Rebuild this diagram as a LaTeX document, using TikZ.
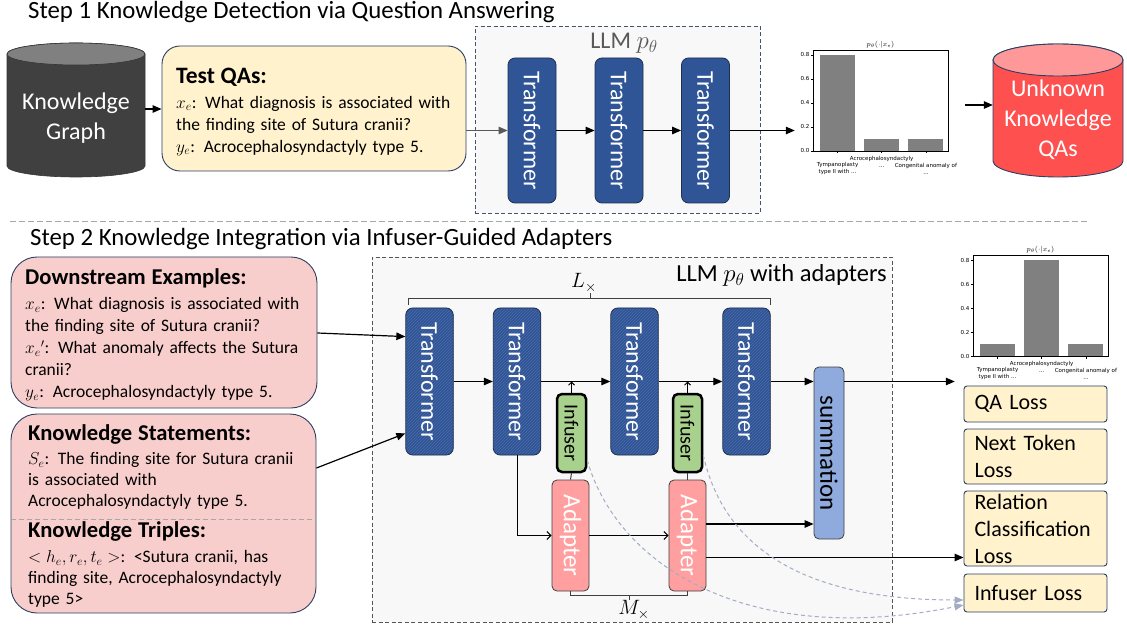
\documentclass[tikz,border=0pt]{standalone}
\usepackage{fontspec}
\setmainfont{Carlito}
\newfontfamily\plotfont{DejaVu Sans}
\usetikzlibrary{arrows.meta,patterns,calc}
\definecolor{tfblue}{HTML}{2F5597}
\definecolor{tfhatch}{HTML}{4A6BA6}
\definecolor{tfline}{HTML}{1F2F4F}
\definecolor{navy}{HTML}{2B3F63}
\definecolor{qafill}{HTML}{FFF2CC}
\definecolor{pinkfill}{HTML}{F8CECC}
\definecolor{llmfill}{HTML}{F8F8F8}
\definecolor{llmline}{HTML}{44546A}
\definecolor{llmtwo}{HTML}{555555}
\definecolor{adfill}{HTML}{FF9F9F}
\definecolor{inffill}{HTML}{A9D18E}
\definecolor{sumfill}{HTML}{8FAADC}
\definecolor{kgbody}{HTML}{404040}
\definecolor{kgtop}{HTML}{808080}
\definecolor{unkbody}{HTML}{FF5050}
\definecolor{unktop}{HTML}{FF9999}
\definecolor{bargray}{HTML}{808080}
\definecolor{dashblue}{HTML}{A3ACC4}
\definecolor{sepgray}{HTML}{A6A6A6}
\definecolor{darkgray}{HTML}{404040}
\definecolor{labgray}{HTML}{595959}
\newcommand{\fs}[2]{\fontsize{#1}{#2}\selectfont}
% #1 name, #2 left x, #3 bottom y, #4-#6 bar heights in tenths
\newcommand{\barchart}[6]{%
  \foreach \h [count=\i] in {#4,#5,#6}{
    \fill[bargray] ({#2+7+(\i-1)*44.2},#3) rectangle ++(35,{-\h*12});
    \draw[line width=0.5pt] ({#2+24.5+(\i-1)*44.2},#3) -- ++(0,2.5);
  }
  \draw[line width=0.6pt] (#2,#3) rectangle ++(135,-101);
  \foreach \v in {0,2,4,6,8}{
    \draw[line width=0.5pt] (#2,{#3-\v*12}) -- ++(-2.5,0);
    \node[tick] (#1y\v) at ({#2-3},{#3-\v*12}) {0.\v};
  }
  \node[inner sep=0pt, font=\fs{7}{7}] (#1t) at ({#2+67.5},{#3-106}) {$p_\theta(\cdot|x_e)$};
  \node[plotlbl] (#1a) at ({#2+24.5},{#3+17.5}) {Tympanoplasty\\type II with ...};
  \node[plotlbl] (#1b) at ({#2+68.7},{#3+10.5}) {Acrocephalosyndactyly\\...};
  \node[plotlbl] (#1c) at ({#2+112.9},{#3+17.5}) {Congenital anomaly of\\...};
}
\begin{document}
\begin{tikzpicture}[x=1pt,y=-1pt,
  tri/.style={-{Triangle[length=9pt,width=7.5pt]}, line width=1.2pt},
  barb/.style={-{Straight Barb[length=4pt,width=8pt]}, line width=1pt},
  smallbarb/.style={-{Straight Barb[length=3pt,width=6pt]}, line width=1pt},
  tfbox/.style={draw=tfline, line width=0.8pt, fill=tfblue, rounded corners=7pt, minimum width=48pt, minimum height=145pt, inner sep=0pt, text=white, font=\fs{24}{24}},
  tfhbox/.style={tfbox, fill=none, preaction={fill=tfblue}, pattern=north east lines, pattern color=tfhatch, minimum width=47.5pt, minimum height=147pt},
  lossbox/.style={draw=navy, line width=0.9pt, fill=qafill, rounded corners=3pt, minimum width=143pt, inner sep=0pt, text width=122pt, align=left, font=\fs{22}{27}},
  pinkbox/.style={draw=navy, line width=0.9pt, fill=pinkfill, rounded corners=26pt},
  txt/.style={anchor=north west, align=left, inner sep=0pt, text width=300pt},
  tick/.style={anchor=east, inner sep=0.5pt, font=\plotfont\fs{5.5}{6}},
  plotlbl/.style={align=center, inner sep=0pt, font=\plotfont\fs{5.5}{7}},
  infbox/.style={draw=black, line width=2.5pt, fill=inffill, rounded corners=5pt, minimum width=29pt, minimum height=78pt, inner sep=0pt, font=\fs{20}{20}},
  adbox/.style={draw=darkgray, line width=0.8pt, fill=adfill, rounded corners=5pt, minimum width=37pt, minimum height=111pt, inner sep=0pt, text=white, font=\fs{25}{25}},
  curve/.style={dashblue, line width=1pt, dash pattern=on 4pt off 3pt, -{Triangle[length=9pt,width=7pt]}},
  brace/.style={draw=darkgray, line width=1pt}
]
\useasboundingbox (0,0) rectangle (1127,628);

% ---------- Step 1 ----------
\node[anchor=base west, inner sep=0pt, font=\fs{24.8}{28}] (title1) at (28,18.5) {Step 1 Knowledge Detection via Question Answering};

% Knowledge graph cylinder
\draw[fill=kgbody, draw=kgbody!85!black, line width=0.6pt] (7,54) -- (7,166) arc[start angle=180, end angle=360, x radius=69pt, y radius=11pt] -- (145,54) arc[start angle=0, end angle=180, x radius=69pt, y radius=11pt] -- cycle;
\draw[fill=kgtop, draw=kgbody!85!black, line width=0.6pt] (76,54) ellipse[x radius=69pt, y radius=11pt];
\node[minimum width=138pt, minimum height=134pt, inner sep=0pt] (kg) at (76,110) {};
\node[align=center, text=white, font=\fs{24}{30}, inner sep=0pt] (kgtxt) at (76,118) {Knowledge\\Graph};

% Test QAs
\node[draw=navy, line width=0.9pt, fill=qafill, rounded corners=18pt, minimum width=304pt, minimum height=125pt] (test) at (314,108.5) {};
\node[txt, font=\fs{17.5}{22}] (testtxt) at (176,67.5) {{\fs{23.5}{26}\bfseries Test QAs:}\\[3pt]$x_e$: What diagnosis is associated with\\the finding site of Sutura cranii?\\$y_e$: Acrocephalosyndactyly type 5.};
\draw[tri] ($(kg.east)+(0,-1)$) -- ($(test.west)+(0,0.5)$);

% LLM box top
\node[draw=llmline, line width=0.8pt, dash pattern=on 4pt off 2.5pt, fill=llmfill, minimum width=285pt, minimum height=187pt] (llm1) at (617.5,119.5) {};
\node[anchor=base, inner sep=0pt, text=labgray, font=\fs{24}{24}] (llm1lbl) at (624,49) {LLM $p_\theta$};
\node[tfbox] (t1) at (532,130.5) {\rotatebox{-90}{Transformer}};
\node[tfbox] (t2) at (619,130.5) {\rotatebox{-90}{Transformer}};
\node[tfbox] (t3) at (705.5,130.5) {\rotatebox{-90}{Transformer}};
\draw[tri, labgray] (test.east |- t1.west) -- (t1.west);
\draw[tri] (t1.east) -- (t2.west);
\draw[tri] (t2.east) -- (t3.west);

% chart 1
\node[minimum width=170pt, minimum height=138pt, inner sep=0pt] (chart1) at (880,105) {};
\barchart{ca}{813}{151}{8}{1}{1}
\draw[tri] (t3.east) -- (chart1.west |- t3.east);

% Unknown knowledge QAs cylinder
\draw[fill=unkbody, draw=navy, line width=0.9pt] (993,60) -- (993,161) arc[start angle=180, end angle=360, x radius=65pt, y radius=16pt] -- (1123,60) arc[start angle=0, end angle=180, x radius=65pt, y radius=16pt] -- cycle;
\draw[fill=unktop, draw=navy, line width=0.9pt] (1058,60) ellipse[x radius=65pt, y radius=16pt];
\node[minimum width=130pt, minimum height=133pt, inner sep=0pt] (unk) at (1058,110.5) {};
\node[align=center, text=white, font=\fs{24}{30}, inner sep=0pt] (unktxt) at (1058,120) {Unknown\\Knowledge\\QAs};
\draw[tri] (chart1.east) -- (chart1.east -| unk.west);

% separator
\draw[sepgray, line width=1pt, dash pattern=on 6pt off 3pt] (10,222) -- (1090,222);

% ---------- Step 2 ----------
\node[anchor=base west, inner sep=0pt, font=\fs{24.8}{28}] (title2) at (30,246) {Step 2 Knowledge Integration via Infuser-Guided Adapters};

% input boxes
\node[pinkbox, minimum width=306pt, minimum height=151pt] (ds) at (164,332.5) {};
\node[txt, font=\fs{17.5}{22}] (dstxt) at (25,268.5) {{\fs{22.6}{22}\bfseries Downstream Examples:}\\[3pt]$x_e$: What diagnosis is associated with\\the finding site of Sutura cranii?\\$x_e{}'$: What anomaly affects the Sutura\\cranii?\\$y_e$: Acrocephalosyndactyly type 5.};
\node[pinkbox, minimum width=305pt, minimum height=199pt] (ks) at (163.5,513.5) {};
\draw[sepgray, line width=0.8pt, dash pattern=on 5pt off 3pt] ($(ks.west)+(0,5.5)$) -- ($(ks.east)+(0,5.5)$);
\node[txt, font=\fs{17.5}{21}] (kstxt) at (28,424) {{\fs{22.6}{22}\bfseries Knowledge Statements:}\\[3.5pt]$S_e$: The finding site for Sutura cranii\\is associated with\\Acrocephalosyndactyly type 5.\\[10pt]{\fs{22.6}{22}\bfseries Knowledge Triples:}\\[4pt]$<h_e,r_e,t_e>$: <Sutura cranii, has\\finding site, Acrocephalosyndactyly\\type 5>};

% LLM box bottom
\node[draw=llmtwo, line width=0.8pt, dash pattern=on 4pt off 2.5pt, fill=llmfill, minimum width=520pt, minimum height=365pt] (llm2) at (632,439.5) {};
\node[anchor=base east, inner sep=0pt, font=\fs{24.5}{24}] (llm2lbl) at (887,282) {LLM $p_\theta$ with adapters};

% L brace
\draw[brace] (408,305) -- (408,299) -- (770,299) -- (770,305);
\draw[brace] (590,299) -- (590,293);
\node[inner sep=0pt, font=\fs{22}{22}] (lx) at (584,283) {$L_{\times}$};

% transformers
\node[tfhbox] (t1b) at (429.5,381.5) {\rotatebox{-90}{Transformer}};
\node[tfhbox] (t2b) at (517,381.5) {\rotatebox{-90}{Transformer}};
\node[tfhbox] (t3b) at (634.5,381.5) {\rotatebox{-90}{Transformer}};
\node[tfhbox] (t4b) at (746.5,381.5) {\rotatebox{-90}{Transformer}};
\node[draw=darkgray, line width=0.8pt, fill=sumfill, rounded corners=5pt, minimum width=30pt, minimum height=172pt, inner sep=0pt, font=\fs{25}{25}] (sum) at (829,453) {\rotatebox{-90}{summation}};

% infusers and adapters
\node[infbox] (inf1) at (571.5,433) {\rotatebox{-90}{Infuser}};
\node[infbox] (inf2) at (687.5,433) {\rotatebox{-90}{Infuser}};
\node[adbox] (ad1) at (570.5,535.5) {\rotatebox{-90}{Adapter}};
\node[adbox] (ad2) at (687.5,535.5) {\rotatebox{-90}{Adapter}};
\draw[darkgray, line width=1pt] (inf1.south) -- (ad1.north);
\draw[darkgray, line width=1pt] (inf2.south) -- (ad2.north);

% M brace
\draw[brace] (ad1.south) -- ++(0,4) -| (ad2.south);
\draw[brace] (629,595) -- (629,600);
\node[inner sep=0pt, font=\fs{22}{22}] (mx) at (634,610) {$M_{\times}$};

% loss boxes
\node[lossbox, minimum height=36pt] (qa) at (1035.5,404) {QA Loss};
\node[lossbox, minimum height=55pt] (nt) at (1035.5,456.5) {Next Token\\Loss};
\node[lossbox, minimum height=75pt] (rc) at (1035.5,528.5) {Relation\\Classification\\Loss};
\node[lossbox, minimum height=38pt] (il) at (1035.5,593) {Infuser Loss};

% chart 2
\node[minimum width=165pt, minimum height=142pt, inner sep=0pt] (chart2) at (1037.5,314) {};
\barchart{cb}{973}{356}{1}{8}{1}

% arrows step 2
\draw[tri] ($(ds.east)+(0,0.5)$) -- ($(t1b.north west)+(0,29)$);
\draw[tri] ($(ks.east)+(0,-45.5)$) -- ($(t1b.south west)+(0,-22)$);
\draw[tri] (t1b.east) -- (t2b.west);
\draw[tri] (t2b.east) -- (t3b.west);
\draw[tri] (t3b.east) -- (t4b.west);
\draw[tri] (t4b.east) -- (sum.west |- t4b.east);
\draw[tri] (sum.east |- t4b.east) -- (chart2.west |- t4b.east);
\draw[smallbarb] (inf1.north) -- (inf1.north |- t1b.east);
\draw[smallbarb] (inf2.north) -- (inf2.north |- t1b.east);
\draw[barb] (t2b.south) |- (ad1.west);
\draw[barb] (ad1.east) -- (ad2.west);
\draw[tri] ($(ad2.east)+(0,-11.5)$) coordinate (a2s) -- (a2s -| sum.west);
\draw[tri] ($(ad2.east)+(0,22)$) coordinate (a2o) -- (a2o -| rc.west);

% dashed infuser-loss curves
\draw[curve] ($(inf1.east)+(0,27)$) .. controls (615,560) and (740,650) .. ($(il.west)+(0,12)$);
\draw[curve] ($(inf2.east)+(0,22)$) .. controls (720,530) and (780,600) .. ($(il.west)+(0,7)$);
\end{tikzpicture}
\end{document}
